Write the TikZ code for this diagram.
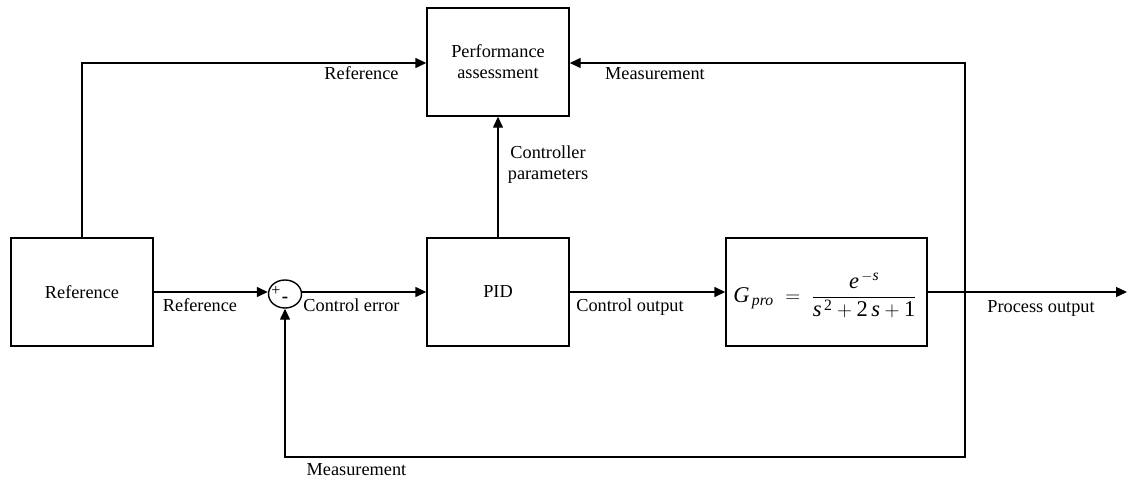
\documentclass[tikz,border=0pt]{standalone}
\usepackage{amsmath}
\usepackage{fontspec}
\setmainfont{Liberation Serif}
\usetikzlibrary{arrows.meta,shapes.geometric}
\begin{document}
\begin{tikzpicture}[x=1pt,y=-1pt,
  every node/.style={font=\fontsize{18.3}{21}\selectfont},
  blk/.style={draw,line width=1.4pt,minimum width=142pt,minimum height=108pt,inner sep=0pt,align=center},
  lbl/.style={inner sep=0pt,align=center},
  wire/.style={line width=1.4pt},
  arr/.style={wire,-{Triangle[length=11pt,width=10pt]}}]
\useasboundingbox (0,0) rectangle (1127,479);
\node[blk] (ref) at (82,292) {Reference};
\node[blk] (perf) at (498,62) {Performance\\assessment};
\node[blk] (pid) at (498,292) {PID};
\node[blk,minimum width=201pt] (gp) at (826.5,292) {};
\node[draw,ellipse,line width=1.4pt,minimum width=33pt,minimum height=28pt,inner sep=0pt] (sum) at (285,294) {};
\node[lbl,font=\fontsize{16}{16}\selectfont] (plus) at (276,290.5) {+};
\node[lbl,font=\fontsize{19}{19}\selectfont\bfseries] (minus) at (285,300) {-};
\node[lbl,font=\fontsize{22.5}{27}\selectfont] (tf) at (825,295)
  {$\textit{G}_{\,\textit{pro}}\;=\;\dfrac{\textit{e}^{\,-\textit{s}}}{\textit{s}^{\,\text{2}}+\text{2}\,\textit{s}+\text{1}}$};
\coordinate (tl) at (82,63);
\coordinate (tr) at (965,63);
\coordinate (jn) at (965,292);
\coordinate (br) at (965,457);
\coordinate (bl) at (285,457);
\coordinate (out) at (1127,292);
% connectors
\draw[arr] (ref.north) -- (tl) -- (perf.west |- tl);
\draw[arr] (ref.east) -- (sum.west |- ref.east);
\draw[arr] (sum.east |- pid.west) -- (pid.west);
\draw[arr] (pid.east) -- (gp.west);
\draw[arr] (pid.north) -- (perf.south);
\draw[arr] (gp.east) -- (out);
\draw[arr] (jn) -- (tr) -- (perf.east |- tr);
\draw[arr] (jn) -- (br) -- (bl) -- (sum.south);
% labels
\node[lbl] (l1) at (361.5,73) {Reference};
\node[lbl] (l2) at (655,74) {Measurement};
\node[lbl] (l3) at (548,165) {Controller\\parameters};
\node[lbl] (l4) at (200,305) {Reference};
\node[lbl] (l5) at (351.5,305) {Control error};
\node[lbl] (l6) at (630,307) {Control output};
\node[lbl] (l7) at (1041,308) {Process output};
\node[lbl] (l8) at (356.5,470) {Measurement};
\end{tikzpicture}
\end{document}
